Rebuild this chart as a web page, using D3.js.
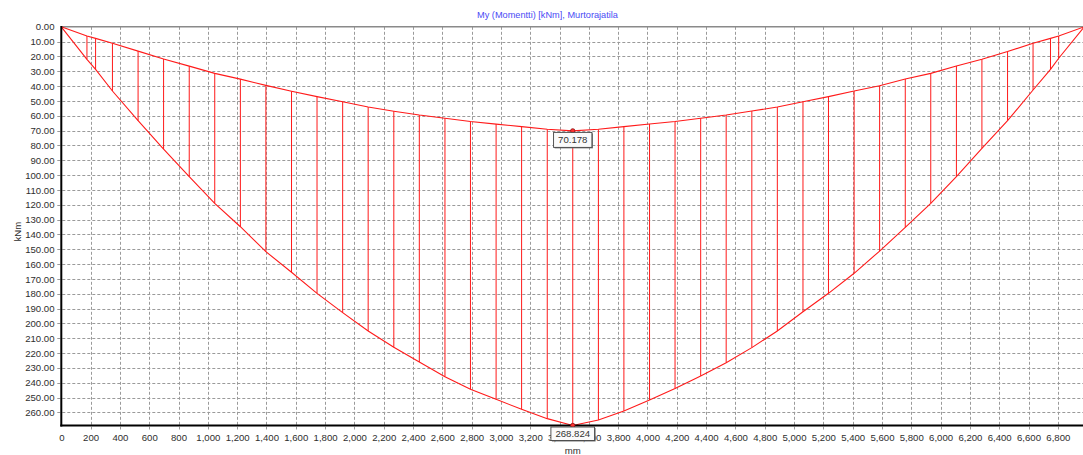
<!DOCTYPE html>
<html>
<head>
<meta charset="utf-8">
<script src="https://cdn.jsdelivr.net/npm/d3@7"></script>
<style>
  html, body { margin: 0; padding: 0; background: #fff; }
  svg { display: block; font-family: "Liberation Sans", Arial, sans-serif; }
</style>
</head>
<body>
<svg id="chart" width="1083" height="455"></svg>
<script>
// Bending moment envelope My along the beam (mm -> kNm)
const positions = [0, 175, 234, 349, 524, 698, 873, 1047, 1222, 1396, 1571, 1745, 1920, 2094,
  2269, 2443, 2618, 2792, 2967, 3141, 3316, 3490, 3665, 3839, 4014, 4188, 4363, 4537, 4712,
  4886, 5061, 5235, 5410, 5584, 5759, 5933, 6108, 6282, 6457, 6631, 6750, 6806, 6980];

const upperMoment = [0, 6.2, 7.8, 11.1, 16.4, 21.7, 26.5, 31.4, 35.3, 39.5, 43.5, 47.1, 50.5, 54.1,
  56.9, 59.5, 61.7, 63.9, 65.6, 67.3, 69.1, 70.178, 69.1, 67.3, 65.5, 63.9, 61.7, 59.5, 56.8,
  54.1, 50.5, 47.1, 43.3, 39.7, 35.2, 31.4, 26.4, 21.9, 16.7, 11.1, 7.8, 6.2, 0];

const lowerMoment = [0, 21.9, 28.7, 43.3, 63.3, 82.4, 101.0, 119.0, 134.8, 151.6, 165.5, 179.7, 192.7, 205.1,
  216.1, 226.0, 235.9, 244.4, 251.2, 257.9, 264.2, 268.824, 265.1, 259.0, 251.6, 243.8, 235.4, 226.5, 216.3,
  205.1, 192.1, 179.7, 166.2, 151.2, 135.2, 119.0, 101.0, 81.9, 63.3, 42.6, 28.7, 21.2, 0];

const xTickValues = d3.range(0, 6801, 200);
const yTickValues = d3.range(0, 261, 10);

const titleText = "My (Momentti) [kNm], Murtorajatila";
const xAxisTitle = "mm";
const yAxisTitle = "kNm";

const svg = d3.select("#chart");
const W = 1083;
const plotLeft = 61.3, plotTop = 26.8;

const x = d3.scaleLinear().domain([0, 6980]).range([plotLeft, 1084.2]);
const yMax = d3.max(lowerMoment);
const y = d3.scaleLinear().domain([0, yMax]).range([plotTop, 425.5]);
const plotBottom = y(yMax);

const gridColor = "#9a9a9a";
const labelColor = "#2e2e2e";
const lineColor = "#ff1a1a";

// grid
const grid = svg.append("g");
grid.selectAll("line.h").data(yTickValues.filter(d => d > 0)).join("line")
  .attr("x1", plotLeft - 4).attr("x2", W)
  .attr("y1", d => Math.round(y(d)) + 0.5).attr("y2", d => Math.round(y(d)) + 0.5)
  .attr("stroke", gridColor).attr("stroke-width", 1).attr("stroke-dasharray", "3,2");
grid.selectAll("line.v").data(xTickValues.filter(d => d > 0)).join("line")
  .attr("x1", d => Math.round(x(d)) + 0.5).attr("x2", d => Math.round(x(d)) + 0.5)
  .attr("y1", plotTop).attr("y2", plotBottom + 4)
  .attr("stroke", gridColor).attr("stroke-width", 1).attr("stroke-dasharray", "3,2");

// top frame line
svg.append("line")
  .attr("x1", plotLeft).attr("x2", W).attr("y1", plotTop).attr("y2", plotTop)
  .attr("stroke", "#8a8a8a").attr("stroke-width", 1.6);

// envelope: vertical hatching between the two curves
const pts = positions.map((p, i) => ({ p, up: upperMoment[i], lo: lowerMoment[i] }));
svg.append("g").selectAll("line").data(pts.filter(d => d.lo - d.up > 0.01)).join("line")
  .attr("x1", d => x(d.p)).attr("x2", d => x(d.p))
  .attr("y1", d => y(d.up)).attr("y2", d => y(d.lo))
  .attr("stroke", lineColor).attr("stroke-width", 1);

const lineGen = key => d3.line().x(d => x(d.p)).y(d => y(d[key]));
svg.append("path").datum(pts).attr("d", lineGen("up"))
  .attr("fill", "none").attr("stroke", lineColor).attr("stroke-width", 1.1);
svg.append("path").datum(pts).attr("d", lineGen("lo"))
  .attr("fill", "none").attr("stroke", lineColor).attr("stroke-width", 1.1);

// axes
const yAxis = svg.append("g").attr("transform", `translate(${plotLeft},0)`)
  .call(d3.axisLeft(y).tickValues(yTickValues).tickFormat(d3.format(".2f")).tickSize(0).tickPadding(6.8));
const xAxis = svg.append("g").attr("transform", `translate(0,${plotBottom})`)
  .call(d3.axisBottom(x).tickValues(xTickValues).tickFormat(d3.format(",")).tickSize(0).tickPadding(8.5));
[yAxis, xAxis].forEach(g => {
  g.select(".domain").remove();
  g.selectAll("text").attr("fill", labelColor).attr("font-size", "9.6px")
    .attr("font-family", "'Liberation Sans', Arial, sans-serif");
});
svg.append("line").attr("x1", plotLeft).attr("x2", plotLeft)
  .attr("y1", plotTop - 0.8).attr("y2", plotBottom + 1)
  .attr("stroke", "#000").attr("stroke-width", 2);
svg.append("line").attr("x1", plotLeft - 1).attr("x2", W)
  .attr("y1", plotBottom).attr("y2", plotBottom)
  .attr("stroke", "#000").attr("stroke-width", 2);

// titles
svg.append("text").attr("x", 547.5).attr("y", 15).attr("text-anchor", "middle")
  .attr("dominant-baseline", "central").attr("font-size", "9.2px").attr("fill", "#4a4af5")
  .text(titleText);
svg.append("text").attr("x", x(3490)).attr("y", 450.5).attr("text-anchor", "middle")
  .attr("dominant-baseline", "central").attr("font-size", "9.6px").attr("fill", labelColor)
  .text(xAxisTitle);
svg.append("text").attr("transform", `translate(17.3,231.7) rotate(-90)`).attr("text-anchor", "middle")
  .attr("dominant-baseline", "central").attr("font-size", "9.6px").attr("fill", labelColor)
  .text(yAxisTitle);

// extreme value markers
const iUp = d3.maxIndex(upperMoment);
const iLo = d3.maxIndex(lowerMoment);
const markers = [
  { p: positions[iUp], v: upperMoment[iUp], text: upperMoment[iUp].toFixed(3), h: 15 },
  { p: positions[iLo], v: lowerMoment[iLo], text: lowerMoment[iLo].toFixed(3), h: 13.5 }
];
markers.forEach(m => {
  const cx = x(m.p), cy = y(m.v);
  svg.append("circle").attr("cx", cx).attr("cy", cy).attr("r", 2.2)
    .attr("fill", "#ff3030").attr("stroke", "#8a1010").attr("stroke-width", 0.8);
  const g = svg.append("g");
  const t = g.append("text").attr("x", cx).attr("text-anchor", "middle")
    .attr("dominant-baseline", "central").attr("font-size", "9.6px").attr("fill", "#333")
    .text(m.text);
  const w = t.node().getComputedTextLength() + 9;
  const top = cy + 1.5;
  t.attr("y", top + m.h / 2);
  g.insert("rect", "text").attr("x", cx - w / 2 + 1).attr("y", top + 1).attr("width", w).attr("height", m.h)
    .attr("fill", "#777");
  g.insert("rect", "text").attr("x", cx - w / 2).attr("y", top).attr("width", w).attr("height", m.h)
    .attr("fill", "#fafafa").attr("stroke", "#444").attr("stroke-width", 0.9);
});
</script>
</body>
</html>
